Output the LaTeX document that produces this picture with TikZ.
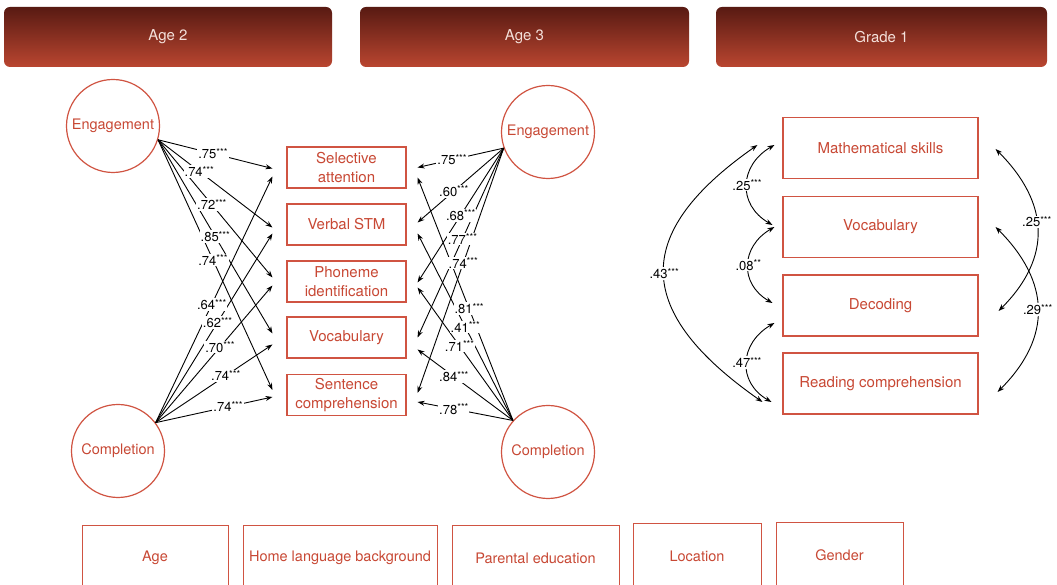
\documentclass[tikz,border=0pt]{standalone}
\usepackage{fontspec}
\setmainfont{TeX Gyre Heros}
\usetikzlibrary{shapes.geometric,arrows.meta,calc}
\definecolor{boxred}{RGB}{208,84,66}
\definecolor{txtred}{RGB}{200,72,52}
\definecolor{hdtop}{RGB}{88,26,18}
\definecolor{hdbot}{RGB}{186,70,48}
\definecolor{hdtxt}{RGB}{244,224,218}
\newcommand{\sg}[1]{\raisebox{3.4pt}{\fontsize{9.5}{10}\selectfont #1}}
% target/yshift/label pos/value
\newcommand{\listLE}{S1/-1/.48/.75, S2/-3/.36/.74, S3/4/.47/.72, S4/4/.50/.85, S5/5/.48/.74}
\newcommand{\listLC}{S1/-9/.48/.64, S2/-9/.53/.62, S3/-4/.55/.70, S4/-7/.60/.74, S5/-2/.62/.74}
\newcommand{\listRE}{S1/0/.60/.75, S2/2/.58/.60, S3/-1/.50/.68, S4/0/.48/.77, S5/2/.47/.74}
\newcommand{\listRC}{S1/-10/.46/.81, S2/-9/.50/.41, S3/-6/.56/.71, S4/-12/.62/.84, S5/-7/.62/.78}
\begin{document}
\begin{tikzpicture}[x=1pt,y=1pt,
  hdr/.style={rectangle, rounded corners=6pt, top color=hdtop, bottom color=hdbot, draw=none, minimum height=60pt, text=hdtxt, font=\fontsize{15}{18}\selectfont, inner sep=0pt},
  lat/.style={circle, draw=boxred, line width=1.2pt, minimum size=93pt, text=txtred, font=\fontsize{14.5}{18}\selectfont, inner sep=0pt},
  obs/.style={rectangle, draw=boxred, line width=1.1pt, minimum width=119pt, minimum height=41pt, text=txtred, font=\fontsize{15}{19}\selectfont, align=center, inner sep=0pt},
  gbox/.style={rectangle, draw=boxred, line width=1.1pt, minimum width=195pt, minimum height=61pt, text=txtred, font=\fontsize{15}{19}\selectfont, inner sep=0pt},
  cbox/.style={rectangle, draw=boxred, line width=1pt, minimum height=64pt, text=txtred, font=\fontsize{14.5}{18}\selectfont, inner sep=0pt},
  arr/.style={-{Stealth[length=7pt,width=5pt]}, line width=0.9pt, black},
  darr/.style={{Stealth[length=7pt,width=5pt]}-{Stealth[length=7pt,width=5pt]}, line width=0.9pt, black},
  lbl/.style={fill=white, inner sep=1pt, text=black, font=\fontsize{13}{14}\selectfont},
]
\clip (0,0) rectangle (1057,585);
\fill[white] (0,0) rectangle (1057,585);

% headers
\node[hdr, minimum width=328pt] (H1) at (168,548) {Age 2};
\node[hdr, minimum width=329pt] (H2) at (524.5,548) {Age 3};
\node[hdr, minimum width=331pt] (H3) at (881.5,548) {Grade 1};

% latent circles
\node[lat] (LE) at (113,459) {Engagement};
\node[lat] (LC) at (118,134) {Completion};
\node[lat] (RE) at (548,453) {Engagement};
\node[lat] (RC) at (548,133) {Completion};

% age-3 observed boxes
\node[obs] (S1) at (346.5,417.5) {Selective\\attention};
\node[obs] (S2) at (346.5,360.5) {Verbal STM};
\node[obs] (S3) at (346.5,303.5) {Phoneme\\identification};
\node[obs] (S4) at (346.5,247.5) {Vocabulary};
\node[obs] (S5) at (346.5,190) {Sentence\\comprehension};

% grade-1 boxes
\node[gbox] (G1) at (880.5,437) {Mathematical skills};
\node[gbox] (G2) at (880.5,358) {Vocabulary};
\node[gbox] (G3) at (880.5,279.5) {Decoding};
\node[gbox] (G4) at (880.5,201.5) {Reading comprehension};

% covariate boxes
\node[cbox, minimum width=146pt] (C1) at (155,27) {Age};
\node[cbox, minimum width=194pt] (C2) at (340,27) {Home language background};
\node[cbox, minimum width=167pt] (C3) at (535.5,27) {Parental education};
\node[cbox, minimum width=128pt] (C4) at (697,29) {Location};
\node[cbox, minimum width=127pt] (C5) at (839.5,30) {Gender};

% connectors (lines first)
\foreach \t/\dy/\p/\v in \listLE {\draw[arr] (LE.-17) -- ($(\t.west)+(-14,\dy)$);}
\foreach \t/\dy/\p/\v in \listLC {\draw[arr] (LC.37) -- ($(\t.west)+(-14,\dy)$);}
\foreach \t/\dy/\p/\v in \listRE {\draw[arr] (RE.200) -- ($(\t.east)+(11,\dy)$);}
\foreach \t/\dy/\p/\v in \listRC {\draw[arr] (RC.138) -- ($(\t.east)+(11,\dy)$);}

% coefficient labels on top
\foreach \t/\dy/\p/\v in \listLE {\path (LE.-17) -- node[lbl,pos=\p]{\v\sg{***}} ($(\t.west)+(-14,\dy)$);}
\foreach \t/\dy/\p/\v in \listLC {\path (LC.37) -- node[lbl,pos=\p]{\v\sg{***}} ($(\t.west)+(-14,\dy)$);}
\foreach \t/\dy/\p/\v in \listRE {\path (RE.200) -- node[lbl,pos=\p]{\v\sg{***}} ($(\t.east)+(11,\dy)$);}
\foreach \t/\dy/\p/\v in \listRC {\path (RC.138) -- node[lbl,pos=\p]{\v\sg{***}} ($(\t.east)+(11,\dy)$);}

% grade-1 covariances, left
\draw[darr] ($(G1.west)+(-8,3)$) to[out=210,in=150,looseness=1.3] node[lbl]{.25\sg{***}} ($(G2.west)+(-10,2)$);
\draw[darr] ($(G2.west)+(-8,0)$) to[out=210,in=150,looseness=1.3] node[lbl]{.08\sg{**}} ($(G3.west)+(-10,2.5)$);
\draw[darr] ($(G3.west)+(-8,-17.5)$) to[out=210,in=150,looseness=1.3] node[lbl]{.47\sg{***}} ($(G4.west)+(-11,-18.5)$);
\draw[darr] ($(G1.west)+(-25,3)$) to[out=215,in=145,looseness=1.55] node[lbl]{.43\sg{***}} ($(G4.west)+(-20,-18.5)$);

% grade-1 covariances, right
\draw[darr] ($(G1.east)+(17,-1)$) to[out=-45,in=45,looseness=1.2] ($(G3.east)+(20,-5.5)$);
\draw[darr] ($(G2.east)+(17,0)$) to[out=-45,in=45,looseness=1.2] ($(G4.east)+(19,-8.5)$);
\path ($(G1.east)+(17,-1)$) to[out=-45,in=45,looseness=1.2] node[lbl,pos=.45]{.25\sg{***}} ($(G3.east)+(20,-5.5)$);
\path ($(G2.east)+(17,0)$) to[out=-45,in=45,looseness=1.2] node[lbl]{.29\sg{***}} ($(G4.east)+(19,-8.5)$);
\end{tikzpicture}
\end{document}
